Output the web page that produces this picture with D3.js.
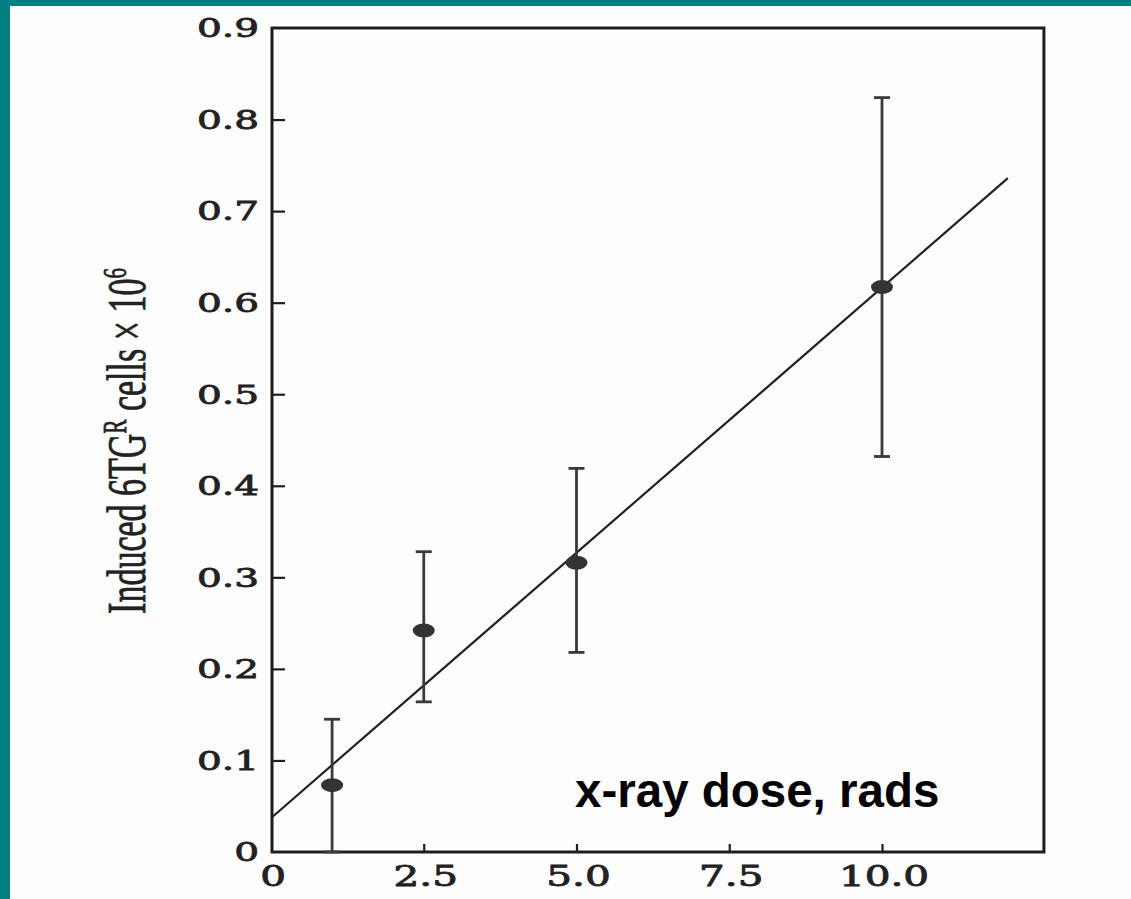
<!DOCTYPE html>
<html>
<head>
<meta charset="utf-8">
<script src="https://cdn.jsdelivr.net/npm/d3@7"></script>
<style>
  html, body { margin: 0; padding: 0; background: #fdfdfd; }
  svg { display: block; }
</style>
</head>
<body>
<svg id="chart" width="1131" height="899"></svg>
<script>
// Induced 6-thioguanine-resistant cells vs. x-ray dose
const doses     = [1.0, 2.5, 5.0, 10.0];
const induced   = [0.073, 0.242, 0.316, 0.617];
const errHigh   = [0.145, 0.328, 0.419, 0.824];
const errLow    = [0.000, 0.164, 0.218, 0.432];
const fitDose   = [0, 12.06];
const fitValue  = [0.038, 0.736];
const xTicks    = [0, 2.5, 5.0, 7.5, 10.0];
const xTickText = ["0", "2.5", "5.0", "7.5", "10.0"];
const yTicks    = [0, 0.1, 0.2, 0.3, 0.4, 0.5, 0.6, 0.7, 0.8, 0.9];
const yTickText = ["0", "0.1", "0.2", "0.3", "0.4", "0.5", "0.6", "0.7", "0.8", "0.9"];

const svg = d3.select("#chart");
const W = 1131, H = 899;

// page background with teal border strips
svg.append("rect").attr("width", W).attr("height", H).attr("fill", "#fdfdfd");
svg.append("rect").attr("x", 0).attr("y", 0).attr("width", W).attr("height", 6).attr("fill", "#008080");
svg.append("rect").attr("x", 0).attr("y", 0).attr("width", 10).attr("height", H).attr("fill", "#008080");

const x = d3.scaleLinear().domain([0, 10]).range([271, 882]);
const y = d3.scaleLinear().domain([0, 0.9]).range([852, 28]);
const xMax = 12.65;

const ink = "#1e1e1e";
const serif = "'DejaVu Serif', serif";

// frame
svg.append("rect")
  .attr("x", x(0) + 1).attr("y", y(0.9))
  .attr("width", x(xMax) - x(0) - 1).attr("height", y(0) - y(0.9))
  .attr("fill", "none").attr("stroke", ink).attr("stroke-width", 3);

// inward ticks
const yAxis = d3.axisLeft(y).tickValues(yTicks.slice(1, -1)).tickSizeInner(-13).tickSizeOuter(0).tickFormat("");
const gy = svg.append("g").attr("transform", `translate(${x(0) + 1},0)`).call(yAxis);
gy.select(".domain").remove();
gy.selectAll(".tick line").attr("stroke", ink).attr("stroke-width", 2.2);

const xAxis = d3.axisBottom(x).tickValues(xTicks.slice(1)).tickSizeInner(-8).tickSizeOuter(0).tickFormat("");
const gx = svg.append("g").attr("transform", `translate(0,${y(0)})`).call(xAxis);
gx.select(".domain").remove();
gx.selectAll(".tick line").attr("stroke", ink).attr("stroke-width", 2.2);

// tick labels (wide serif)
const stretch = 1.5;
svg.append("g").selectAll("text").data(yTicks).join("text")
  .attr("transform", d => `translate(259,${y(d)}) scale(${stretch},1)`)
  .attr("dy", "0.36em")
  .attr("text-anchor", "end")
  .attr("font-family", serif).attr("font-size", 26).attr("fill", "#222")
  .attr("stroke", "#222").attr("stroke-width", 0.8)
  .text((d, i) => yTickText[i]);

svg.append("g").selectAll("text").data(xTicks).join("text")
  .attr("transform", d => `translate(${x(d) + 2},886) scale(${stretch},1)`)
  .attr("text-anchor", "middle")
  .attr("font-family", serif).attr("font-size", 27).attr("fill", "#222")
  .attr("stroke", "#222").attr("stroke-width", 0.8)
  .text((d, i) => xTickText[i]);

// y-axis title, rotated and stretched across
const yTitle = svg.append("g")
  .attr("transform", `translate(145,441) scale(1.6,1) rotate(-90)`)
  .append("text")
  .attr("text-anchor", "middle")
  .attr("font-family", "'Liberation Serif', 'Times New Roman', serif")
  .attr("font-size", 34).attr("fill", "#222")
  .attr("stroke", "#222").attr("stroke-width", 0.5);
yTitle.append("tspan").text("Induced 6TG");
yTitle.append("tspan").attr("font-size", 21).attr("dy", -12).text("R");
yTitle.append("tspan").attr("dy", 12).text(" cells \u00d7 10");
yTitle.append("tspan").attr("font-size", 21).attr("dy", -12).text("6");

// fitted line
svg.append("line")
  .attr("x1", x(fitDose[0]) + 1).attr("y1", y(fitValue[0]))
  .attr("x2", x(fitDose[1])).attr("y2", y(fitValue[1]))
  .attr("stroke", "#222").attr("stroke-width", 2.2);

// error bars
const barInk = "#3a3a3a";
const pts = doses.map((d, i) => ({ d, v: induced[i], hi: errHigh[i], lo: errLow[i] }));
const eb = svg.append("g");
eb.selectAll(".stem").data(pts).join("line")
  .attr("x1", p => x(p.d)).attr("x2", p => x(p.d))
  .attr("y1", p => y(p.hi)).attr("y2", p => y(p.lo))
  .attr("stroke", barInk).attr("stroke-width", 2.8);
eb.selectAll(".capHi").data(pts).join("line")
  .attr("x1", p => x(p.d) - 8).attr("x2", p => x(p.d) + 8)
  .attr("y1", p => y(p.hi)).attr("y2", p => y(p.hi))
  .attr("stroke", barInk).attr("stroke-width", 2.8);
eb.selectAll(".capLo").data(pts).join("line")
  .attr("x1", p => x(p.d) - 8).attr("x2", p => x(p.d) + 8)
  .attr("y1", p => y(p.lo)).attr("y2", p => y(p.lo))
  .attr("stroke", barInk).attr("stroke-width", 2.8);

// data markers
svg.append("g").selectAll("ellipse").data(pts).join("ellipse")
  .attr("cx", p => x(p.d)).attr("cy", p => y(p.v))
  .attr("rx", 11).attr("ry", 7)
  .attr("fill", "#333");

// x-axis title inside the plot
svg.append("text")
  .attr("x", 575).attr("y", 807)
  .attr("font-family", "'Liberation Sans', Arial, sans-serif")
  .attr("font-weight", "bold").attr("font-size", 47.5).attr("fill", "#000")
  .text("x-ray dose, rads");
</script>
</body>
</html>
